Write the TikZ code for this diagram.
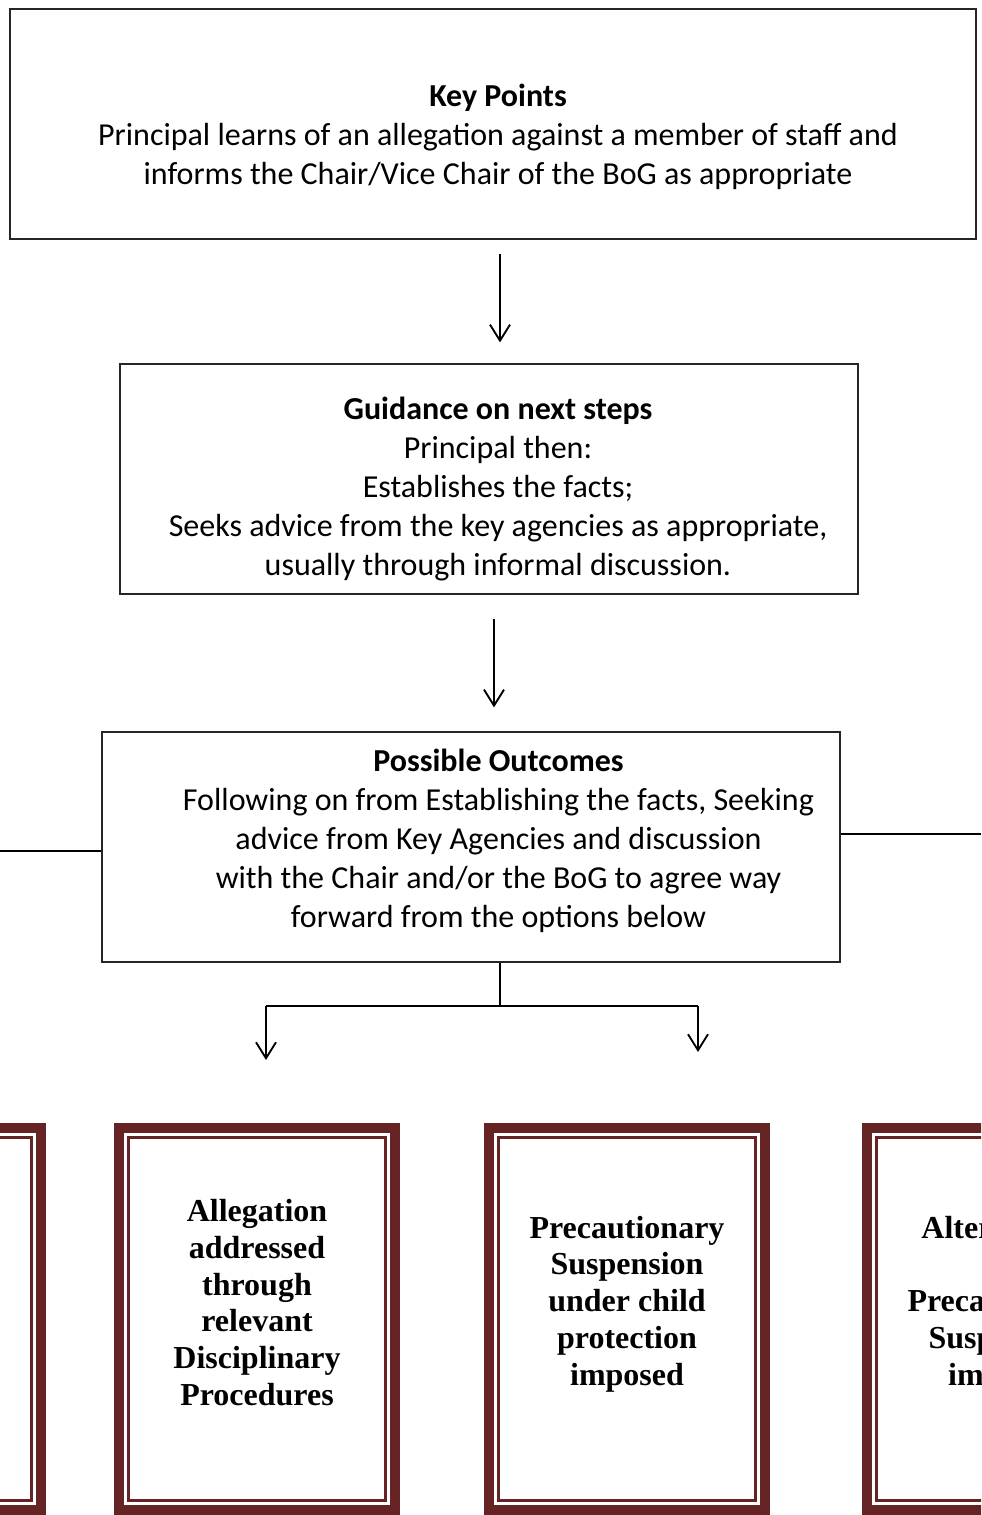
\documentclass[tikz,border=0pt]{standalone}
\usepackage{fontspec}
\setmainfont{Carlito}
\newfontfamily\tnr{Liberation Serif}
\usetikzlibrary{arrows.meta}
\definecolor{maroon}{RGB}{102,35,35}
\begin{document}
\begin{tikzpicture}[x=0.75pt,y=-0.75pt,
  flowbox/.style={draw=black!85, line width=0.9pt, inner sep=0pt},
  flowtext/.style={align=center, font=\fontsize{24}{29.25}\selectfont, inner sep=0pt},
  conn/.style={draw=black, line width=1.4pt},
  arr/.style={conn, -{Straight Barb[length=12pt,width=15pt]}},
  framebox/.style={draw=maroon, line width=7.5pt, inner sep=0pt, minimum width=207pt, minimum height=286.5pt},
  frameinner/.style={draw=maroon, line width=2pt},
  frametext/.style={align=center, font=\tnr\bfseries\fontsize{24}{27.6}\selectfont, inner sep=0pt}]
\useasboundingbox (0,0) rectangle (981,1515);
\clip (0,0) rectangle (981,1515);

% flow boxes
\node[flowbox, minimum width=724.5pt, minimum height=172.5pt] (kp) at (493,124) {};
\node[flowtext] (kpt) at (498,137) {\textbf{Key Points}\\Principal learns of an allegation against a member of staff and\\informs the Chair/Vice Chair of the BoG as appropriate};

\node[flowbox, minimum width=553.5pt, minimum height=172.5pt] (gd) at (489,479) {};
\node[flowtext] (gdt) at (498,489.5) {\textbf{Guidance on next steps}\\Principal then:\\Establishes the facts;\\Seeks advice from the key agencies as appropriate,\\usually through informal discussion.};

\node[flowbox, minimum width=553.5pt, minimum height=172.5pt] (po) at (471,847) {};
\node[flowtext] (pot) at (498.5,840.5) {\textbf{Possible Outcomes}\\Following on from Establishing the facts, Seeking\\advice from Key Agencies and discussion\\with the Chair and/or the BoG to agree way\\forward from the options below};

% outcome frames
\foreach \n/\x in {b1/-97, b2/257, b3/627, b4/1005}{
  \node[framebox] (\n) at (\x,1319) {};
  \draw[frameinner] ([shift={(14.5,14.5)}]\n.north west) rectangle ([shift={(-14.5,-14.5)}]\n.south east);
}
\node[frametext] (b2t) at (257,1302.5) {Allegation\\addressed\\through\\relevant\\Disciplinary\\Procedures};
\node[frametext] (b3t) at (627,1304) {Precautionary\\Suspension\\under child\\protection\\imposed};
\node[frametext] (b4t) at (1005,1304) {Alternatives\\to\\Precautionary\\Suspension\\imposed};

% connectors
\draw[arr, shorten <=10.5pt, shorten >=15.75pt] ([xshift=5.25pt]kp.south) -- ([xshift=5.25pt]kp.south |- gd.north);
\draw[arr, shorten <=18pt, shorten >=18pt] ([xshift=3.75pt]gd.south) -- ([xshift=3.75pt]gd.south |- po.north);

\coordinate (lend) at (0,851);
\draw[conn] (lend) -- (lend -| po.west);
\coordinate (rend) at (981,834);
\draw[conn] (po.east |- rend) -- (rend);

\coordinate (jc) at (500,1006);
\coordinate (jl) at (266,1006);
\coordinate (jr) at (698,1006);
\draw[conn] (jc |- po.south) -- (jc);
\draw[conn] (jl) -- (jr);
\draw[arr, shorten >=47.25pt] (jl) -- (jl |- b2.north);
\draw[arr, shorten >=53.25pt] (jr) -- (jr |- b3.north);
\end{tikzpicture}
\end{document}
